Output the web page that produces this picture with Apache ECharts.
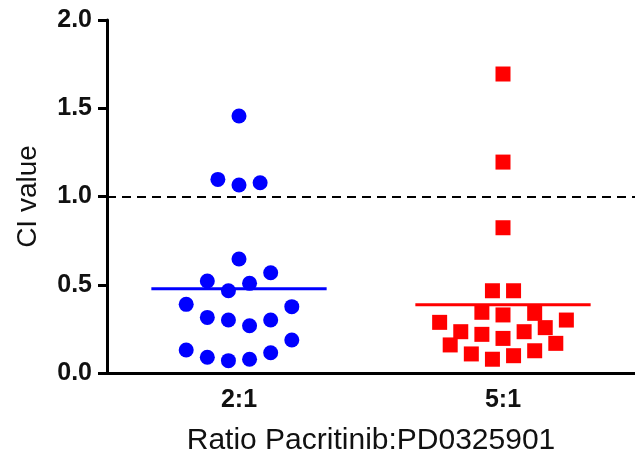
<!DOCTYPE html>
<html>
<head>
<meta charset="utf-8">
<script src="https://cdn.jsdelivr.net/npm/echarts@6/dist/echarts.min.js"></script>
<style>
  html, body { margin: 0; padding: 0; background: #fff; }
  #chart { width: 635px; height: 454px; }
</style>
</head>
<body>
<div id="chart"></div>
<script>
// categories and tick labels
const categories = ['2:1', '5:1'];
const yTicks = [0, 0.5, 1.0, 1.5, 2.0];
const threshold = 1.0;

// CI values, with each point's beeswarm slot
const ci21 = [1.456, 1.097, 1.065, 1.078, 0.646, 0.568, 0.521, 0.508, 0.466, 0.389, 0.376,
              0.315, 0.300, 0.268, 0.300, 0.130, 0.187, 0.089, 0.070, 0.078, 0.115];
const slot21 = [0, -2, 0, 2, 0, 3, -3, 1, -1, -5, 5,
                -3, -1, 1, 3, -5, 5, -3, -1, 1, 3];

const ci51 = [1.694, 1.195, 0.823, 0.466, 0.466, 0.344, 0.329, 0.338, 0.287, 0.300, 0.234,
              0.219, 0.196, 0.234, 0.257, 0.159, 0.168, 0.108, 0.078, 0.098, 0.126];
const slot51 = [0, 0, 0, -1, 1, -2, 0, 3, -6, 6, -4,
                -2, 0, 2, 4, -5, 5, -3, -1, 1, 3];

// hidden axis: 50 units across the plot, category centres at 12.5 and 37.5
const centers = [12.5, 37.5];
const halfBar = 8.3;

function pts(vals, slots, c) {
  return vals.map((v, i) => [c + slots[i], v]);
}
function mean(a) {
  return a.reduce((s, v) => s + v, 0) / a.length;
}
function meanLine(vals, c) {
  const m = mean(vals);
  return [[c - halfBar, m], [c + halfBar, m]];
}

const font = 'Liberation Sans, Arial, sans-serif';
const chart = echarts.init(document.getElementById('chart'), null, { renderer: 'canvas' });

chart.setOption({
  animation: false,
  backgroundColor: '#fff',
  grid: { left: 107, right: 0, top: 20, bottom: 81, containLabel: false, outerBoundsMode: 'none' },
  xAxis: [{
    type: 'category',
    data: categories,
    name: 'Ratio Pacritinib:PD0325901',
    nameLocation: 'middle',
    nameGap: 53,
    nameTextStyle: { fontFamily: font, fontSize: 30, color: '#111' },
    axisLine: { lineStyle: { color: '#000', width: 3 } },
    axisTick: { alignWithLabel: true, length: 9, lineStyle: { color: '#000', width: 3 } },
    axisLabel: { margin: 15, fontFamily: font, fontSize: 25, fontWeight: 'bold', color: '#111' },
    splitLine: { show: false }
  }, {
    type: 'value',
    min: 0,
    max: 50,
    show: false
  }],
  yAxis: {
    type: 'value',
    min: yTicks[0],
    max: yTicks[yTicks.length - 1],
    interval: 0.5,
    name: 'CI value',
    nameLocation: 'middle',
    nameGap: 65,
    nameTextStyle: { fontFamily: font, fontSize: 28, color: '#111' },
    axisLine: { show: true, lineStyle: { color: '#000', width: 3 } },
    axisTick: { show: true, length: 9, lineStyle: { color: '#000', width: 3 } },
    axisLabel: { margin: 15, fontFamily: font, fontSize: 25, fontWeight: 'bold', color: '#111',
                 formatter: v => v.toFixed(1) },
    splitLine: { show: false }
  },
  series: [
    {
      type: 'scatter',
      xAxisIndex: 1,
      symbol: 'circle',
      symbolSize: 15,
      itemStyle: { color: '#0000ff', opacity: 1 },
      data: pts(ci21, slot21, centers[0]),
      markLine: {
        silent: true,
        symbol: 'none',
        label: { show: false },
        lineStyle: { color: '#000', width: 2, type: [9, 6] },
        data: [{ yAxis: threshold }]
      }
    },
    {
      type: 'scatter',
      xAxisIndex: 1,
      symbol: 'rect',
      symbolSize: 15,
      itemStyle: { color: '#ff0000', opacity: 1 },
      data: pts(ci51, slot51, centers[1])
    },
    {
      type: 'line',
      xAxisIndex: 1,
      symbol: 'none',
      lineStyle: { color: '#0000ff', width: 3 },
      data: meanLine(ci21, centers[0])
    },
    {
      type: 'line',
      xAxisIndex: 1,
      symbol: 'none',
      lineStyle: { color: '#ff0000', width: 3 },
      data: meanLine(ci51, centers[1])
    }
  ]
});
</script>
</body>
</html>
